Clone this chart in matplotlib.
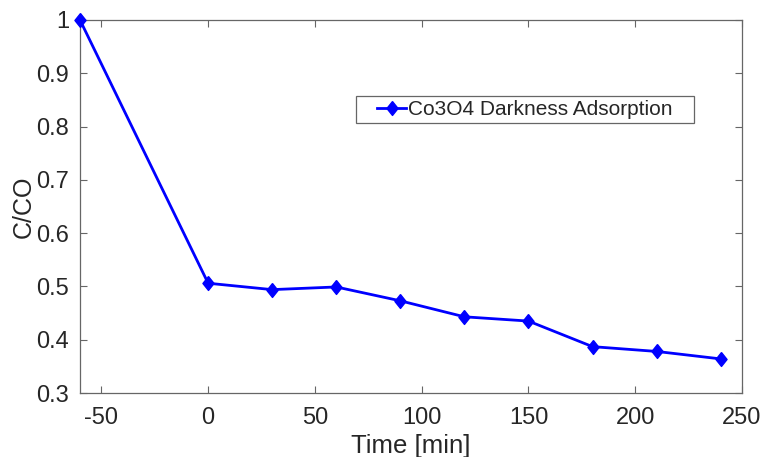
import matplotlib
matplotlib.use("Agg")
import matplotlib.pyplot as plt
from matplotlib.patches import Rectangle

time_min = [-60, 0, 30, 60, 90, 120, 150, 180, 210, 240]
c_ratio = [1.0, 0.506, 0.494, 0.499, 0.473, 0.443, 0.435, 0.387, 0.378, 0.364]
series_label = "Co3O4 Darkness Adsorption"
xticks = [-50, 0, 50, 100, 150, 200, 250]
yticks = [0.3, 0.4, 0.5, 0.6, 0.7, 0.8, 0.9, 1.0]
ytick_labels = ["0.3", "0.4", "0.5", "0.6", "0.7", "0.8", "0.9", "1"]

plt.rcParams['font.family'] = ['Liberation Sans', 'DejaVu Sans']
plt.rcParams['axes.unicode_minus'] = False
txt = '#262626'
W, H = 763, 457
L, R, T, B = 80, 742, 20, 393
diamond = [(0, 1), (0.8, 0), (0, -1), (-0.8, 0), (0, 1)]
fig = plt.figure(figsize=(W/100, H/100), dpi=100)
ax = fig.add_axes([L/W, 1 - B/H, (R-L)/W, (B-T)/H])
ax.plot(time_min, c_ratio, color=(0, 0, 1), lw=2, marker=diamond, ms=10,
        markerfacecolor=(0, 0, 1), markeredgecolor=(0, 0, 1), label=series_label,
        clip_on=False, zorder=6)
ax.set_xlim(-60, 250)
ax.set_ylim(0.3, 1.0)
ax.set_xticks(xticks)
ax.set_yticks(yticks)
ax.set_yticklabels(ytick_labels)
ax.tick_params(direction='in', top=True, right=True, length=5, width=0.8,
               colors='#666666', labelcolor=txt, labelsize=17, pad=8)
ax.tick_params(axis='x', pad=10)
for s in ax.spines.values():
    s.set_color('#666666')
    s.set_linewidth(0.9)
ax.set_xlabel("Time [min]", fontsize=18.5, color=txt, labelpad=4)
ax.set_ylabel("C/CO", fontsize=18, color=txt, labelpad=0)

# legend box in pixel coordinates -> axes fraction
bx0, bx1, by0, by1 = 356, 694, 96, 123
leg = ax.legend(loc='center left',
                bbox_to_anchor=((377 - L)/(R-L), 1 - ((by0+by1)/2 - T)/(B-T)),
                fontsize=15, frameon=False, borderpad=0,
                handlelength=1.4, handletextpad=0.1, borderaxespad=0, labelcolor=txt)
ax.add_patch(Rectangle(((bx0-L)/(R-L), 1 - (by1-T)/(B-T)), (bx1-bx0)/(R-L), (by1-by0)/(B-T),
                       transform=ax.transAxes, fill=False, edgecolor='#666666', lw=0.9, zorder=5))
fig.savefig("out.png", dpi=100, facecolor='white')
